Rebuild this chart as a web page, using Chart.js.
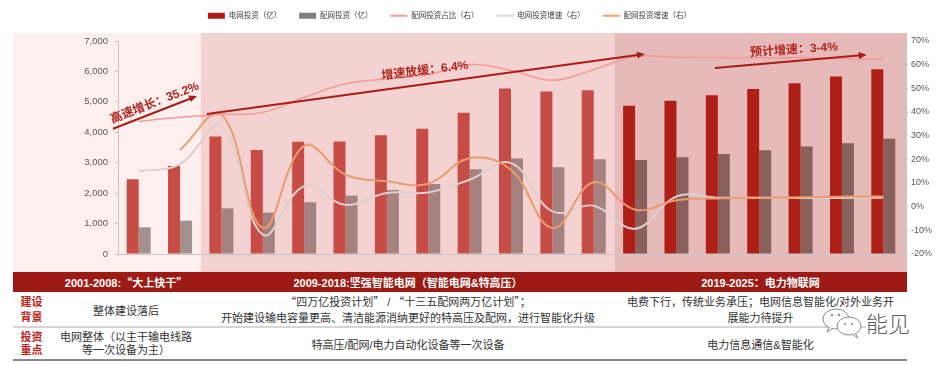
<!DOCTYPE html>
<html><head><meta charset="utf-8">
<script src="https://cdn.jsdelivr.net/npm/chart.js@4.4.0/dist/chart.umd.min.js"></script>
<style>
html,body{margin:0;padding:0;background:#fff;width:943px;height:365px;overflow:hidden;font-family:'Liberation Sans','Noto Sans CJK SC',sans-serif;}
#wrap{position:absolute;left:0;top:0;width:943px;height:272px;}
.c{position:absolute;display:flex;flex-direction:column;align-items:center;justify-content:center;text-align:center;white-space:nowrap;}
.band{color:#fff;font-weight:bold;font-size:11px;}
.lab{color:#c0201a;font-weight:bold;font-size:11px;line-height:15px;}
.txt{color:#333;font-size:11px;}
.q{font-family:'Noto Sans CJK SC',sans-serif;}
</style></head>
<body>
<div id="wrap"><canvas id="cv" width="943" height="272"></canvas></div>

<div style="position:absolute;left:13px;top:272px;width:894px;height:20px;background:#9d1b14;"></div>
<div class="c band" style="left:50px;top:272px;width:152px;height:20px;"><span>2001-2008:<span class="q">“大上快干”</span></span></div>
<div class="c band" style="left:202px;top:272px;width:412px;height:20px;">2009-2018:坚强智能电网（智能电网&amp;特高压）</div>
<div class="c band" style="left:614px;top:272px;width:293px;height:20px;">2019-2025：电力物联网</div>

<div style="position:absolute;left:13px;top:326px;width:894px;height:2px;background:#d6d6d6;"></div>
<div style="position:absolute;left:13px;top:359px;width:894px;height:2px;background:#8a8a8a;"></div>

<div class="c lab" style="left:13px;top:292px;width:37px;height:35px;"><div>建设</div><div>背景</div></div>
<div class="c txt" style="left:50px;top:292px;width:152px;height:35px;">整体建设落后</div>
<div class="c txt" style="left:202px;top:292px;width:412px;height:35px;line-height:16px;"><div><span class="q">“四万亿投资计划”</span> / <span class="q">“十三五配网两万亿计划”；</span></div><div>开始建设输电容量更高、清洁能源消纳更好的特高压及配网，进行智能化升级</div></div>
<div class="c txt" style="left:614px;top:292px;width:293px;height:35px;line-height:16px;"><div>电费下行，传统业务承压；电网信息智能化/对外业务开</div><div>展能力待提升</div></div>

<div class="c lab" style="left:13px;top:328px;width:37px;height:31px;line-height:13px;"><div>投资</div><div>重点</div></div>
<div class="c txt" style="left:50px;top:328px;width:152px;height:31px;line-height:13px;"><div>电网整体（以主干输电线路</div><div>等一次设备为主）</div></div>
<div class="c txt" style="left:202px;top:328px;width:412px;height:31px;">特高压/配网/电力自动化设备等一次设备</div>
<div class="c txt" style="left:614px;top:328px;width:293px;height:31px;">电力信息通信&amp;智能化</div>

<svg style="position:absolute;left:821px;top:307px;" width="44" height="32">
  <ellipse cx="15" cy="12" rx="13" ry="10" fill="#fff" stroke="#8a8a8a" stroke-width="1"/>
  <path d="M8 20 L6 25 L12 21" fill="#fff" stroke="#8a8a8a" stroke-width="1"/>
  <ellipse cx="28" cy="19" rx="12" ry="9" fill="#fff" stroke="#8a8a8a" stroke-width="1"/>
  <path d="M34 26 L37 31 L31 27" fill="#fff" stroke="#8a8a8a" stroke-width="1"/>
  <circle cx="11" cy="8" r="1.2" fill="#8a8a8a"/><circle cx="18" cy="8" r="1.2" fill="#8a8a8a"/>
  <circle cx="24" cy="17" r="1.1" fill="#8a8a8a"/><circle cx="31" cy="17" r="1.1" fill="#8a8a8a"/>
</svg>
<div style="position:absolute;left:866px;top:308px;width:46px;height:28px;background:#fff;color:#5a5a5a;font-size:22px;line-height:28px;font-weight:300;font-family:'Noto Sans CJK SC',sans-serif;">能见</div>

<script>
const categories = ['2007','2008','2009','2010','2011','2012','2013','2014','2015','2016','2017','2018','2019','2020','2021E','2022E','2023E','2024E','2025E'];
const gridInvest = [2457, 2895, 3860, 3420, 3690, 3700, 3900, 4120, 4640, 5440, 5340, 5380, 4870, 5040, 5220, 5420, 5615, 5830, 6075];
const distInvest = [877, 1096, 1500, 1360, 1700, 1920, 2105, 2300, 2785, 3135, 2850, 3115, 3090, 3180, 3290, 3410, 3530, 3640, 3790];
const distShare  = [36.0, 37.8, 38.9, 39.8, 46.1, 51.9, 54.0, 55.8, 60.0, 57.6, 53.4, 57.9, 63.4, 63.1, 63.0, 62.9, 62.9, 62.4, 62.4];
const gridGrowth = [14.9, 18.0, 34.0, -11.8, 8.6, 0.8, 5.8, 6.0, 11.4, 18.4, -2.0, 0.4, -9.3, 4.3, 3.8, 3.8, 3.7, 3.7, 3.8];
const distGrowth = [null, 24.0, 39.0, -9.0, 25.7, 13.5, 10.7, 9.7, 20.5, 15.6, -9.0, 10.3, -1.3, 2.7, 3.5, 3.8, 4.0, 4.2, 4.3];
const leftTickValues = [0, 1000, 2000, 3000, 4000, 5000, 6000, 7000];
const rightTickValues = [-20, -10, 0, 10, 20, 30, 40, 50, 60, 70];
const periodStarts = ['2009', '2019'];
const annotationTexts = ['高速增长：35.2%', '增速放缓：6.4%', '预计增速：3-4%'];

const FONT = "'Liberation Sans','Noto Sans CJK SC',sans-serif";
const b1 = categories.indexOf(periodStarts[0]);
const b2 = categories.indexOf(periodStarts[1]);
const regionOf = i => i < b1 ? 0 : (i < b2 ? 1 : 2);
const redCols = ['#c74c46', '#c74c46', '#ae1f17'];
const greyCols = ['#a2918f', '#a5817f', '#8a605d'];
const legendColors = ['#ae1f17', '#808080', '#f19a98', '#d8d8d8', '#eea070'];

const bgPlugin = {
  id: 'bg',
  beforeDraw(chart) {
    const {ctx, chartArea: a, scales: {x}} = chart;
    const p1 = x.getPixelForValue(b1 - 0.5), p2 = x.getPixelForValue(b2 - 0.5);
    const top = a.top - 8, bottom = chart.height, left = 13, right = a.right + 3;
    ctx.save();
    ctx.fillStyle = '#fcefee'; ctx.fillRect(left, top, p1 - left, bottom - top);
    ctx.fillStyle = '#f3d2d1'; ctx.fillRect(p1, top, p2 - p1, bottom - top);
    ctx.fillStyle = '#e7baba'; ctx.fillRect(p2, top, right - p2, bottom - top);
    ctx.restore();
  }
};

const annoPlugin = {
  id: 'anno',
  afterDatasetsDraw(chart) {
    const {ctx, scales: {x, y2}} = chart;
    const P = (i, v) => [x.getPixelForValue(i), y2.getPixelForValue(v)];
    const arrows = [[-0.62, 32.9, 1.41, 46.8], [1.65, 39.2, 12.24, 64.5], [13.93, 58.6, 17.6, 64.2]];
    const texts = [[0.39, 43.8, -21.4], [6.92, 57.4, -7], [15.84, 66.2, -4]];
    const col = '#a81d18';
    ctx.save();
    arrows.forEach(ar => {
      const [x1, y1] = P(ar[0], ar[1]); const [x2, y2p] = P(ar[2], ar[3]);
      const ang = Math.atan2(y2p - y1, x2 - x1);
      const L = 8, W = 3.5;
      ctx.strokeStyle = col; ctx.lineWidth = 2;
      ctx.beginPath(); ctx.moveTo(x1, y1);
      ctx.lineTo(x2 - Math.cos(ang) * L * 0.7, y2p - Math.sin(ang) * L * 0.7); ctx.stroke();
      ctx.fillStyle = col; ctx.beginPath();
      ctx.moveTo(x2, y2p);
      ctx.lineTo(x2 - Math.cos(ang) * L + Math.sin(ang) * W, y2p - Math.sin(ang) * L - Math.cos(ang) * W);
      ctx.lineTo(x2 - Math.cos(ang) * L - Math.sin(ang) * W, y2p - Math.sin(ang) * L + Math.cos(ang) * W);
      ctx.closePath(); ctx.fill();
    });
    texts.forEach((t, k) => {
      const [px, py] = P(t[0], t[1]);
      ctx.save(); ctx.translate(px, py); ctx.rotate(t[2] * Math.PI / 180);
      ctx.font = 'bold 12px ' + FONT; ctx.fillStyle = '#b0251e';
      ctx.textAlign = 'center'; ctx.textBaseline = 'middle';
      ctx.fillText(annotationTexts[k], 0, 0); ctx.restore();
    });
    ctx.restore();
  }
};

const legendFix = {
  id: 'legendFix',
  afterInit(chart) {
    const lg = chart.legend; const f = lg.fit;
    lg.fit = function () { f.call(this); this.height = 41; };
  },
  afterLayout(chart) {
    const lg = chart.legend;
    lg.left -= 22; lg.right -= 22; lg.top -= 6; lg.bottom -= 6;
  }
};

const lineCommon = {type: 'line', pointRadius: 0, pointHoverRadius: 0, tension: 0.4, yAxisID: 'y2', fill: false, spanGaps: true, pointStyle: 'line'};

new Chart(document.getElementById('cv'), {
  type: 'bar',
  data: {
    labels: categories,
    datasets: [
      {type: 'bar', label: '电网投资（亿）', data: gridInvest, backgroundColor: categories.map((_, i) => redCols[regionOf(i)]), yAxisID: 'y', order: 2, barPercentage: 1, categoryPercentage: 0.58},
      {type: 'bar', label: '配网投资（亿）', data: distInvest, backgroundColor: categories.map((_, i) => greyCols[regionOf(i)]), yAxisID: 'y', order: 2, barPercentage: 1, categoryPercentage: 0.58},
      Object.assign({label: '配网投资占比（右）', data: distShare, borderColor: '#f19a98', borderWidth: 1.5, order: 1}, lineCommon),
      Object.assign({label: '电网投资增速（右）', data: gridGrowth, borderColor: '#dcd1d0', borderWidth: 2, order: 1}, lineCommon),
      Object.assign({label: '配网投资增速（右）', data: distGrowth, borderColor: '#eb9c6c', borderWidth: 2, order: 0}, lineCommon)
    ]
  },
  options: {
    responsive: false, animation: false,
    layout: {padding: 0},
    plugins: {
      tooltip: {enabled: false},
      legend: {
        position: 'top',
        labels: {
          usePointStyle: true, pointStyleWidth: 17, boxHeight: 6, padding: 18,
          color: '#404040', font: {size: 7.5, family: FONT},
          generateLabels(chart) {
            return chart.data.datasets.map((ds, i) => ({
              text: ds.label, fillStyle: legendColors[i], strokeStyle: legendColors[i],
              lineWidth: ds.type === 'line' ? 2 : 0, pointStyle: ds.type === 'line' ? 'line' : 'rect',
              hidden: false, datasetIndex: i, fontColor: '#404040'
            }));
          }
        }
      }
    },
    scales: {
      x: {
        grid: {display: false}, border: {display: true, color: '#c6c6c6'},
        ticks: {color: '#595959', font: {size: 9, family: FONT}, padding: 8, maxRotation: 0, autoSkip: false},
        afterFit(s) { s.height = 18; }
      },
      y: {
        position: 'left', min: 0, max: 7000,
        afterBuildTicks(s) { s.ticks = leftTickValues.map(v => ({value: v})); },
        ticks: {color: '#595959', font: {size: 9.5, family: FONT}, padding: 7, callback: v => v.toLocaleString('en-US')},
        grid: {drawOnChartArea: false, tickLength: 3, color: '#c6c6c6'},
        border: {display: true, color: '#c6c6c6'},
        afterFit(s) { s.width = 118; }
      },
      y2: {
        position: 'right', min: -20, max: 70,
        afterBuildTicks(s) { s.ticks = rightTickValues.map(v => ({value: v})); },
        ticks: {color: '#595959', font: {size: 9, family: FONT}, padding: 3, callback: v => v + '%'},
        grid: {drawOnChartArea: false, tickLength: 4, color: '#c6c6c6'},
        border: {display: true, color: '#c6c6c6'},
        afterFit(s) { s.width = 39; }
      }
    }
  },
  plugins: [bgPlugin, annoPlugin, legendFix]
});
</script>
</body></html>
